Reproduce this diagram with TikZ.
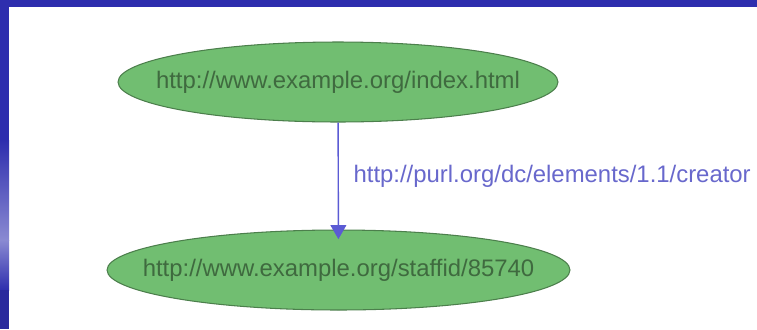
\documentclass[tikz,border=0pt]{standalone}
\usepackage{fontspec}
\setmainfont{Liberation Sans}
\usetikzlibrary{shapes.geometric,arrows.meta}
\definecolor{framebl}{HTML}{2E2EAE}
\definecolor{framelt}{HTML}{8A8AD2}
\definecolor{resfill}{HTML}{71BE71}
\definecolor{resline}{HTML}{4C7F4C}
\definecolor{restext}{HTML}{3F6A3F}
\definecolor{propbl}{HTML}{5B5BD4}
\definecolor{proptext}{HTML}{6868CC}
\begin{document}
\begin{tikzpicture}[x=0.02cm,y=-0.02cm,
  resource/.style={ellipse,draw=resline,line width=0.6pt,fill=resfill,
    inner sep=0pt,minimum height=1.6cm,
    label={[text=restext,font=\fontsize{13.6}{15}\selectfont]center:#1}},
  property/.style={-{Triangle[length=8pt,width=9pt]},draw=propbl,line width=0.8pt,shorten >=-5.5pt}]
\useasboundingbox (0,0) rectangle (757,329);
\fill[framebl] (0,0) rectangle (757,7);
\fill[framebl] (0,0) rectangle (9,140);
\shade[top color=framebl,bottom color=framelt] (0,140) rectangle (9,240);
\shade[top color=framelt,bottom color=framebl] (0,240) rectangle (9,290);
\fill[framebl!90!black] (0,290) rectangle (9,329);
\node[resource={http://www.example.org/index.html},minimum width=8.8cm] (index) at (338,82) {};
\node[resource={http://www.example.org/staffid/85740},minimum width=9.26cm] (staff) at (338.5,270) {};
\draw[property] (index) -- (staff)
  node[midway,right=5pt,text=proptext,font=\fontsize{13.6}{15}\selectfont] (creator) {http://purl.org/dc/elements/1.1/creator};
\end{tikzpicture}
\end{document}
